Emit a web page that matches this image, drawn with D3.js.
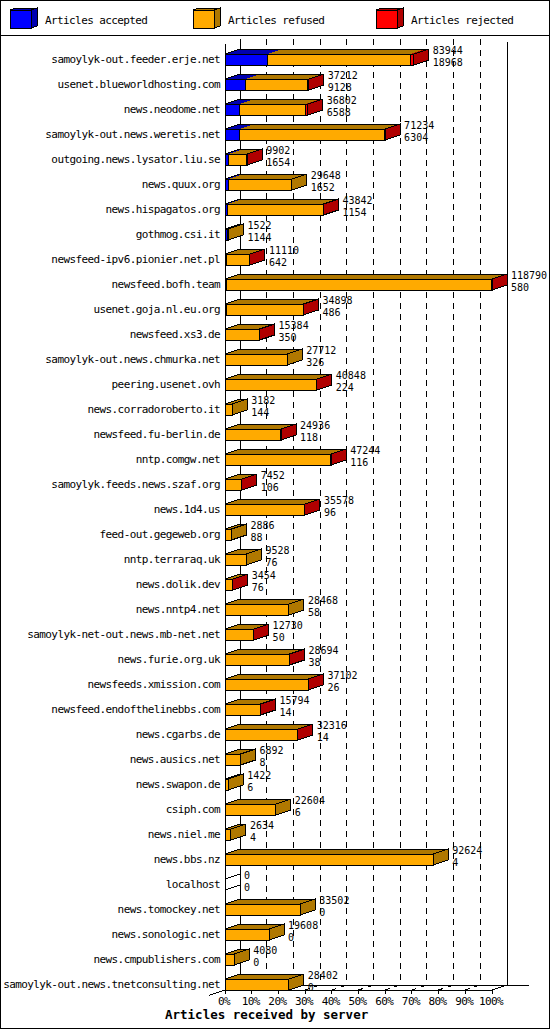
<!DOCTYPE html>
<html>
<head>
<meta charset="utf-8">
<script src="https://cdn.jsdelivr.net/npm/d3@7"></script>
<style>
body { margin: 0; background: #fff; }
svg { display: block; font-family: "DejaVu Sans Mono", monospace; }
text { font-size: 11px; letter-spacing: -0.6px; fill: #000; }
text.val { font-size: 10px; letter-spacing: 0px; }
</style>
</head>
<body>
<script>
// chart data
var servers = [
  "samoylyk-out.feeder.erje.net", "usenet.blueworldhosting.com", "news.neodome.net",
  "samoylyk-out.news.weretis.net", "outgoing.news.lysator.liu.se", "news.quux.org",
  "news.hispagatos.org", "gothmog.csi.it", "newsfeed-ipv6.pionier.net.pl",
  "newsfeed.bofh.team", "usenet.goja.nl.eu.org", "newsfeed.xs3.de",
  "samoylyk-out.news.chmurka.net", "peering.usenet.ovh", "news.corradoroberto.it",
  "newsfeed.fu-berlin.de", "nntp.comgw.net", "samoylyk.feeds.news.szaf.org",
  "news.1d4.us", "feed-out.gegeweb.org", "nntp.terraraq.uk", "news.dolik.dev",
  "news.nntp4.net", "samoylyk-net-out.news.mb-net.net", "news.furie.org.uk",
  "newsfeeds.xmission.com", "newsfeed.endofthelinebbs.com", "news.cgarbs.de",
  "news.ausics.net", "news.swapon.de", "csiph.com", "news.niel.me", "news.bbs.nz",
  "localhost", "news.tomockey.net", "news.sonologic.net", "news.cmpublishers.com",
  "samoylyk-out.news.tnetconsulting.net"
];
// total articles received (upper number)
var received = [83944, 37212, 36802, 71234, 9902, 29648, 43842, 1522, 11110, 118790,
  34898, 15384, 27712, 40848, 3182, 24936, 47244, 7452, 35578, 2886, 9528, 3454,
  28468, 12730, 28694, 37102, 15794, 32316, 6892, 1422, 22604, 2634, 92624, 0,
  33502, 19608, 4080, 28402];
// accepted (lower number)
var accepted = [18968, 9128, 6588, 6304, 1654, 1652, 1154, 1144, 642, 580, 486, 350,
  326, 224, 144, 118, 116, 106, 96, 88, 76, 76, 58, 50, 38, 26, 14, 14, 8, 6, 6, 4, 4,
  0, 0, 0, 0, 0];
// rejected (estimated from the red slices)
var rejected = [1200, 350, 1000, 250, 120, 0, 200, 0, 180, 350, 150, 120, 0, 200, 0,
  150, 300, 80, 150, 0, 0, 60, 0, 90, 100, 120, 70, 110, 0, 0, 0, 0, 0, 0, 0, 0, 0, 0];
var pctTicks = [0, 10, 20, 30, 40, 50, 60, 70, 80, 90, 100];
var legendLabels = ["Articles accepted", "Articles refused", "Articles rejected"];

var w = 550, h = 1030;
var dx = 15, dy = 5, barH = 11;
var colors = [
  {front: "#0000ff", dark: "#0000b0"},
  {front: "#ffaa00", dark: "#b07800"},
  {front: "#ff0000", dark: "#b00000"}
];

var svg = d3.select("body").append("svg")
  .attr("width", w)
  .attr("height", h)
  .attr("shape-rendering", "crispEdges");

// outer frame and legend separator
svg.append("rect")
  .attr("x", 0.5).attr("y", 0.5)
  .attr("width", 548.5).attr("height", 1027.5)
  .attr("fill", "none").attr("stroke", "#000");
svg.append("line")
  .attr("x1", 0).attr("x2", w).attr("y1", 35.5).attr("y2", 35.5)
  .attr("stroke", "#000");

// legend with small 3D boxes
var legend = svg.selectAll(".legend")
  .data(legendLabels)
  .enter().append("g")
  .attr("class", "legend")
  .attr("transform", function(d, i){ return "translate(" + (10 + i * 183) + ",0)"; });
legend.append("path")
  .attr("d", "M21,10 L27,8 L27,26 L21,28 Z")
  .attr("fill", function(d, i){ return colors[i].dark; })
  .attr("stroke", "#000");
legend.append("path")
  .attr("d", "M0,10 L6,8 L27,8 L21,10 Z")
  .attr("fill", function(d, i){ return colors[i].dark; })
  .attr("stroke", "#000");
legend.append("rect")
  .attr("x", 0).attr("y", 10).attr("width", 21).attr("height", 18)
  .attr("fill", function(d, i){ return colors[i].front; })
  .attr("stroke", "#000");
legend.append("text")
  .attr("x", 35).attr("y", 24)
  .text(function(d){ return d; });

// scales
var x = d3.scaleLinear().domain([0, d3.max(received)]).range([225, 492]);
var pct = d3.scaleLinear().domain([0, 100]).range([225, 492]);
var y = d3.scalePoint().domain(servers).range([54, 54 + 25 * (servers.length - 1)]);

var floorFront = y(servers[servers.length - 1]) + barH; // 990
var floorBack = floorFront - dy;
var top0 = 39;

// dashed grid lines on back wall running onto the floor
svg.selectAll(".grid")
  .data(pctTicks.slice(1, -1))
  .enter().append("path")
  .attr("class", "grid")
  .attr("d", function(d){
    var px = pct(d);
    return "M" + (px + dx) + "," + top0 + " V" + floorBack + " L" + px + "," + floorFront;
  })
  .attr("fill", "none")
  .attr("stroke", "#000")
  .attr("stroke-dasharray", "6,5");

// walls and floor
var frame = [
  [pct(0) + dx, top0, pct(0) + dx, floorBack],
  [pct(100) + dx, 42, pct(100) + dx, floorBack],
  [pct(0) + dx, floorBack, 529, floorBack],
  [pct(100), floorFront, pct(100) + dx, floorBack],
  [pct(0) + dx, floorBack, pct(0) - 16, floorFront + 5.3],
  [pct(0), 44, pct(0), floorFront],
  [pct(0), floorFront, pct(100), floorFront]
];
svg.selectAll(".frame")
  .data(frame)
  .enter().append("line")
  .attr("class", "frame")
  .attr("x1", function(d){ return d[0]; })
  .attr("y1", function(d){ return d[1]; })
  .attr("x2", function(d){ return d[2]; })
  .attr("y2", function(d){ return d[3]; })
  .attr("stroke", "#000");

// x axis ticks and labels
svg.selectAll(".tick")
  .data(pctTicks)
  .enter().append("line")
  .attr("class", "tick")
  .attr("x1", function(d){ return pct(d); })
  .attr("x2", function(d){ return pct(d); })
  .attr("y1", floorFront).attr("y2", floorFront + 4)
  .attr("stroke", "#000");
svg.selectAll(".ticklabel")
  .data(pctTicks)
  .enter().append("text")
  .attr("class", "ticklabel")
  .attr("x", function(d){ return pct(d) - 1; })
  .attr("y", 1005)
  .attr("text-anchor", "middle")
  .text(function(d){ return d + "%"; });

svg.append("text")
  .attr("x", 165).attr("y", 1019)
  .style("font-weight", "bold")
  .style("font-size", "12.5px")
  .style("letter-spacing", "0px")
  .text("Articles received by server");

// rows
var rows = servers.map(function(s, i){
  return {
    name: s,
    total: received[i],
    acc: accepted[i],
    rej: rejected[i],
    ref: Math.max(0, received[i] - accepted[i] - rejected[i])
  };
});

var row = svg.selectAll(".row")
  .data(rows)
  .enter().append("g")
  .attr("class", "row");

row.append("text")
  .attr("x", 220)
  .attr("y", function(d){ return y(d.name) + 9; })
  .attr("text-anchor", "end")
  .text(function(d){ return d.name; });

row.each(function(d){
  var g = d3.select(this);
  var ft = y(d.name), fb = ft + barH;
  if (d.total === 0) {
    // empty bar: only the depth edges
    [ft, fb].forEach(function(yy){
      g.append("line")
        .attr("x1", x(0)).attr("y1", yy)
        .attr("x2", x(0) + dx).attr("y2", yy - dy)
        .attr("stroke", "#000");
    });
  } else {
    var segs = [], start = 0;
    [d.acc, d.ref, d.rej].forEach(function(v, k){
      if (v > 0) {
        segs.push({x0: x(start), x1: x(start + v), c: colors[k]});
        start += v;
      }
    });
    segs.forEach(function(s){
      g.append("path")
        .attr("d", "M" + s.x0 + "," + ft + " L" + (s.x0 + dx) + "," + (ft - dy) +
          " L" + (s.x1 + dx) + "," + (ft - dy) + " L" + s.x1 + "," + ft + " Z")
        .attr("fill", s.c.dark);
      g.append("rect")
        .attr("x", s.x0).attr("y", ft)
        .attr("width", s.x1 - s.x0).attr("height", barH)
        .attr("fill", s.c.front)
        .attr("stroke", "#000");
    });
    var last = segs[segs.length - 1];
    g.append("path")
      .attr("d", "M" + last.x1 + "," + ft + " L" + (last.x1 + dx) + "," + (ft - dy) +
        " L" + (last.x1 + dx) + "," + (fb - dy) + " L" + last.x1 + "," + fb + " Z")
      .attr("fill", last.c.dark)
      .attr("stroke", "#000");
    g.append("path")
      .attr("d", "M" + x(0) + "," + ft + " L" + (x(0) + dx) + "," + (ft - dy) +
        " H" + (last.x1 + dx))
      .attr("fill", "none")
      .attr("stroke", "#000");
  }
  // two-line value label
  var lx = x(d.total) + dx + 4;
  g.append("text").attr("class", "val").attr("x", lx).attr("y", ft + 0.3).text(d.total);
  g.append("text").attr("class", "val").attr("x", lx).attr("y", ft + 12).text(d.acc);
});
</script>
</body>
</html>
